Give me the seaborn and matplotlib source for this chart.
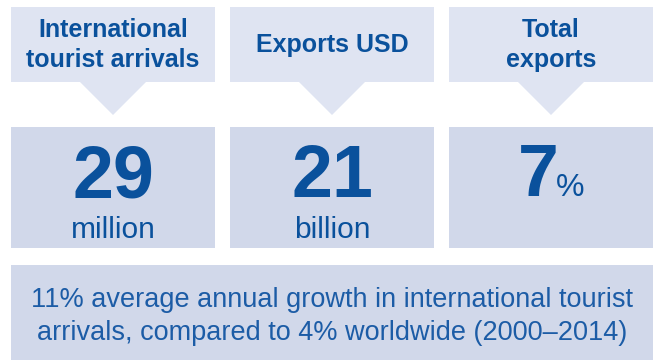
import matplotlib
matplotlib.use("Agg")
import matplotlib.pyplot as plt
from matplotlib.patches import Rectangle, Polygon
import seaborn as sns

# Key figures
headers = [["International", "tourist arrivals"], ["Exports USD"], ["Total", "exports"]]
figures = ["29", "21", "7"]
units = ["million", "billion", "%"]
footnote = ["11% average annual growth in international tourist",
            "arrivals, compared to 4% worldwide (2000\u20132014)"]

# Palette
HEAD_BG = "#dfe4f2"
BODY_BG = "#d1d8ea"
DARK_BLUE = "#0a519c"
TEXT_BLUE = "#1c5ca6"

sns.set_theme(style="white")
plt.rcParams["font.family"] = ["Liberation Sans", "DejaVu Sans"]

W, H = 661, 360
fig = plt.figure(figsize=(W / 100, H / 100), dpi=100)
ax = fig.add_axes([0, 0, 1, 1])
ax.set_xlim(0, W)
ax.set_ylim(H, 0)
ax.axis("off")

# panel layout (pixel units)
col_left = [11, 230, 449]
col_w = 204
head_top, head_bot = 7, 82
tri_half, tri_tip = 33, 115
body_top, body_bot = 127, 248
foot_top, foot_bot = 265, 360
head_baselines = {1: [52], 2: [37, 67]}
foot_baselines = [307, 340]

for i, (hdr, num, unit) in enumerate(zip(headers, figures, units)):
    x0 = col_left[i]
    cx = x0 + col_w / 2
    ax.add_patch(Rectangle((x0, head_top), col_w, head_bot - head_top,
                           facecolor=HEAD_BG, edgecolor="none"))
    ax.add_patch(Polygon([(cx - tri_half, head_bot), (cx + tri_half, head_bot),
                          (cx, tri_tip)], closed=True,
                         facecolor=HEAD_BG, edgecolor="none"))
    ax.add_patch(Rectangle((x0, body_top), col_w, body_bot - body_top,
                           facecolor=BODY_BG, edgecolor="none"))
    for line, yb in zip(hdr, head_baselines[len(hdr)]):
        ax.text(cx, yb, line, ha="center", va="baseline",
                fontsize=18, fontweight="bold", color=DARK_BLUE)
    if unit == "%":
        ax.text(cx - 13, 196, num, ha="center", va="baseline",
                fontsize=53, fontweight="bold", color=DARK_BLUE)
        ax.text(cx + 5, 196, unit, ha="left", va="baseline",
                fontsize=23, color=DARK_BLUE)
    else:
        ax.text(cx, 197, num, ha="center", va="baseline",
                fontsize=53, fontweight="bold", color=DARK_BLUE)
        ax.text(cx, 238, unit, ha="center", va="baseline",
                fontsize=21.5, color=DARK_BLUE)

ax.add_patch(Rectangle((col_left[0], foot_top), col_left[2] + col_w - col_left[0],
                       foot_bot - foot_top, facecolor=BODY_BG, edgecolor="none"))
foot_cx = (col_left[0] + col_left[2] + col_w) / 2
for line, yb in zip(footnote, foot_baselines):
    ax.text(foot_cx, yb, line, ha="center", va="baseline",
            fontsize=19.5, color=TEXT_BLUE)

fig.savefig("out.png", dpi=100)
